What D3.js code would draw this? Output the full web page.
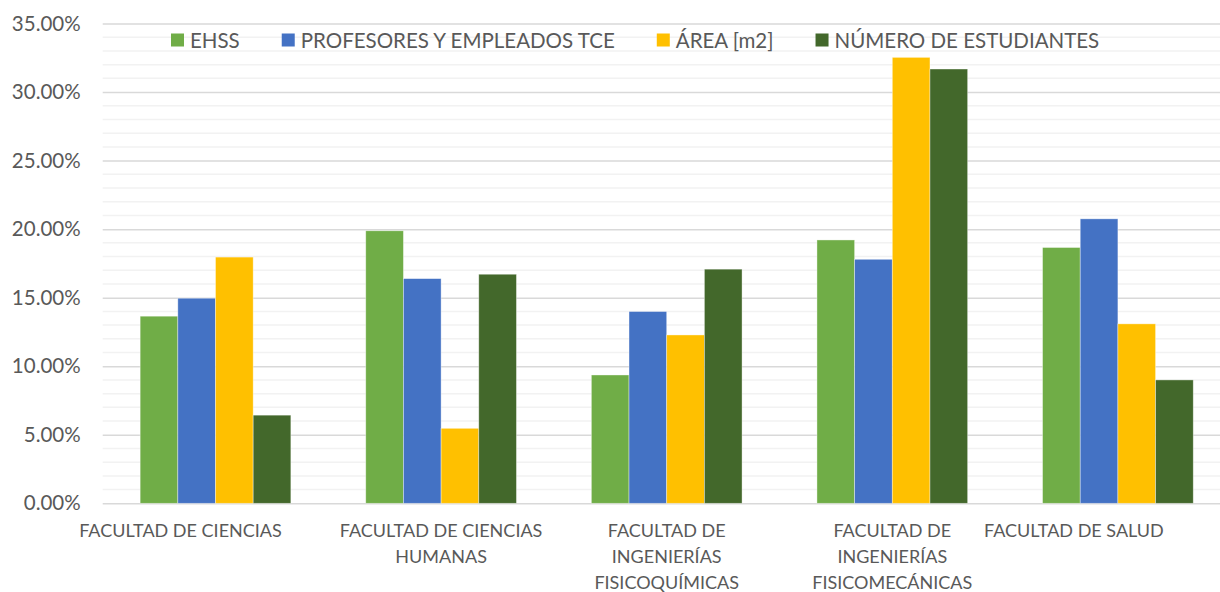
<!DOCTYPE html>
<html>
<head>
<meta charset="utf-8">
<script src="https://cdn.jsdelivr.net/npm/d3@7"></script>
<style>
  body { margin: 0; background: #fff; }
  svg { display: block; font-family: Lato, "Open Sans", sans-serif; }
</style>
</head>
<body>
<div id="chart"></div>
<script>
// data
var categories = [
  ["FACULTAD DE CIENCIAS"],
  ["FACULTAD DE CIENCIAS", "HUMANAS"],
  ["FACULTAD DE", "INGENIERÍAS", "FISICOQUÍMICAS"],
  ["FACULTAD DE", "INGENIERÍAS", "FISICOMECÁNICAS"],
  ["FACULTAD DE SALUD"]
]
var seriesNames = ["EHSS", "PROFESORES Y EMPLEADOS TCE", "ÁREA [m2]", "NÚMERO DE ESTUDIANTES"]
var ehss = [13.65, 19.88, 9.36, 19.21, 18.66]
var profesores = [14.96, 16.39, 13.99, 17.80, 20.75]
var area = [17.96, 5.47, 12.28, 32.53, 13.09]
var estudiantes = [6.43, 16.71, 17.08, 31.68, 9.00]
var yTicks = [0, 5, 10, 15, 20, 25, 30, 35]

var seriesValues = [ehss, profesores, area, estudiantes]
var colors = ["#70AD47", "#4472C4", "#FFC000", "#43682B"]

const width = 1220
const height = 592

const padding = {
  top: 23.5,
  left: 102.7,
  bottom: 88.7
}
const plotRight = 1230.7   // plot area runs past the picture's right edge

var svg = d3.select("#chart").append("svg")
  .attr("width", width)
  .attr("height", height)

var catIdx = d3.range(categories.length)

const yScale = d3.scaleLinear().domain([0, 35]).range([height - padding.bottom, padding.top])
const xScale = d3.scaleBand().domain(catIdx).range([padding.left, plotRight])
  .paddingInner(0.332).paddingOuter(0.166)
const subScale = d3.scaleBand().domain(d3.range(seriesNames.length)).range([0, xScale.bandwidth()])

// minor gridlines every 1%
var minor = d3.range(1, 35).filter(function(v){ return v % 5 != 0 })
svg.append("g").selectAll("line")
  .data(minor)
  .enter().append("line")
  .attr("x1", padding.left).attr("x2", plotRight)
  .attr("y1", d => yScale(d)).attr("y2", d => yScale(d))
  .attr("stroke", "#F2F2F2")
  .attr("stroke-width", 1.5)

// major gridlines + tick labels
var yAxis = d3.axisLeft(yScale).tickValues(yTicks)
  .tickSize(-(plotRight - padding.left))
  .tickPadding(22)
  .tickFormat(d => d.toFixed(2) + "%")

var yg = svg.append("g")
  .attr("transform", "translate(" + padding.left + ",0)")
  .call(yAxis)
yg.select(".domain").remove()
yg.selectAll(".tick line").attr("stroke", "#D9D9D9").attr("stroke-width", 1.5)
yg.selectAll(".tick text")
  .attr("fill", "#595959")
  .style("font-size", "20.5px")
  .style("font-family", "Lato, sans-serif")

// bars
var groups = svg.append("g").selectAll("g")
  .data(catIdx)
  .enter().append("g")
  .attr("transform", d => "translate(" + xScale(d) + ",0)")

groups.selectAll("rect")
  .data(function(c){ return seriesValues.map(function(s, i){ return {s: i, v: s[c]} }) })
  .enter().append("rect")
  .attr("x", d => subScale(d.s))
  .attr("width", subScale.bandwidth())
  .attr("y", d => yScale(d.v))
  .attr("height", d => yScale(0) - yScale(d.v))
  .attr("fill", d => colors[d.s])
  .attr("stroke", "#fff")
  .attr("stroke-opacity", 0.5)
  .attr("stroke-width", 0.75)

// category labels (Excel nudged the outer two)
var labelShift = [-35, 0, 0, 0, -44]
var lab = svg.append("g").selectAll("text")
  .data(catIdx)
  .enter().append("text")
  .attr("text-anchor", "middle")
  .attr("fill", "#595959")
  .style("font-size", "18px")
  .attr("transform", d => "translate(" + (xScale(d) + xScale.bandwidth() / 2 + labelShift[d]) + ",537)")

lab.selectAll("tspan")
  .data(d => categories[d])
  .enter().append("tspan")
  .attr("x", 0)
  .attr("y", (d, i) => i * 26)
  .text(d => d)

// legend
var legend = svg.append("g").attr("transform", "translate(171,40)")
var lx = 0
seriesNames.forEach(function(name, i){
  var item = legend.append("g").attr("transform", "translate(" + lx + ",0)")
  item.append("rect")
    .attr("x", 0).attr("y", -6.5)
    .attr("width", 13).attr("height", 13)
    .attr("fill", colors[i])
  var t = item.append("text")
    .attr("x", 19).attr("y", 7.5)
    .attr("fill", "#595959")
    .style("font-size", "20.5px")
    .text(name)
  lx += 19 + t.node().getComputedTextLength() + 42
})
</script>
</body>
</html>
